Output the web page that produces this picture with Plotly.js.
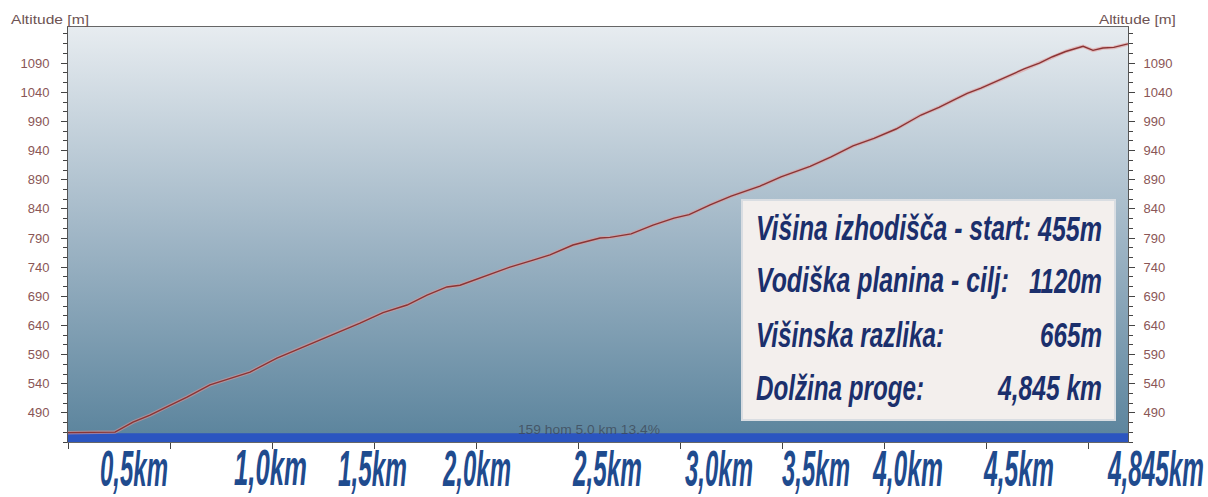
<!DOCTYPE html>
<html><head><meta charset="utf-8">
<script src="https://cdn.plot.ly/plotly-3.0.1.min.js"></script>
<style>html,body{margin:0;padding:0;background:#fff;}#chart{width:1208px;height:497px;}</style>
</head><body><div id="chart"></div>
<script>
// ---- data ----
const distanceKm = [0.000,0.100,0.215,0.297,0.375,0.466,0.544,0.649,0.754,0.832,0.955,1.061,1.138,1.211,1.335,1.440,1.550,1.641,1.732,1.792,1.897,2.020,2.126,2.203,2.308,2.432,2.477,2.574,2.674,2.770,2.839,2.935,3.031,3.163,3.259,3.392,3.488,3.588,3.684,3.785,3.899,3.981,4.045,4.110,4.173,4.288,4.370,4.440,4.500,4.560,4.610,4.640,4.685,4.730,4.780,4.845];
const altitudeM  = [456,456,457,474,486,503,517,538,551,560,584,601,612,624,644,662,675,692,706,709,723,740,752,761,778,790,791,797,812,824,830,847,862,879,895,913,929,948,961,977,1001,1014,1026,1038,1047,1066,1080,1090,1101,1110,1116,1119,1112,1116,1117,1123];
const startAltitude = 455;
const yTickValues = [490,540,590,640,690,740,790,840,890,940,990,1040,1090];
const xTickLabels = ['0,5km','1,0km','1,5km','2,0km','2,5km','3,0km','3,5km','4,0km','4,5km','4,845km'];
const infoLabels = ['Višina izhodišča - start:','Vodiška planina - cilj:','Višinska razlika:','Dolžina proge:'];
const infoValues = ['455m','1120m','665m','4,845 km'];
const statusText = '159 hom 5.0 km 13.4%';
const axisTitle = 'Altitude [m]';

// ---- layout constants ----
const X_RANGE = [0, 4.845];
const Y_RANGE = [440, 1152];
const M = {l:68, r:80, t:27, b:55};
const PW = 1208 - M.l - M.r, PH = 497 - M.t - M.b;
const px2paperX = p => (p - M.l) / PW;
const px2paperY = p => (497 - M.b - p) / PH;

const narrow = '"Liberation Sans Narrow", "Liberation Sans", Arial, sans-serif';
const plain = '"Liberation Sans", Arial, sans-serif';

// text fitting: the reference text is strongly condensed. We pick a font size whose
// natural width matches the target width, then stretch vertically to the visual size.
const cv = document.createElement('canvas').getContext('2d');
function measure(text, font){
  cv.font = (font.style==='italic'?'italic ':'') + (font.weight==='bold'?'bold ':'') + font.size + 'px ' + font.family;
  return cv.measureText(text).width;
}
const annotations = [], fits = [];
function addAnn(a, targetW, visSize){
  const natural = measure(a.text, Object.assign({}, a.font, {size:visSize}));
  const size = Math.max(6, visSize * targetW / natural);
  a.font = Object.assign({}, a.font, {size:size});
  annotations.push(a);
  fits.push({w:targetW, sy:visSize/size});
}

// x labels (placed by hand in the reference)
const xLabelCenters = [134,270,372,476,607,719,816,907,1018,1155];
const xLabelWidths  = [68,73,69,68,69,68,68,70,70,96];
xTickLabels.forEach((t,i)=>addAnn({
  text:t, xref:'paper', yref:'paper', x:px2paperX(xLabelCenters[i]), y:px2paperY(468),
  xanchor:'center', yanchor:'middle', align:'center', showarrow:false, borderpad:0,
  font:{family:narrow, color:'#1f4b8e', weight:'bold', style:'italic'}
}, xLabelWidths[i], 50));

// info box text
const rowY = [227.5, 280, 334.5, 387.5];
const labW = [275, 253, 188, 168];
const valW = [64, 73, 62, 104];
const infoFont = {family:narrow, color:'#1b2f6c', weight:'bold', style:'italic'};
infoLabels.forEach((t,i)=>addAnn({text:t, xref:'paper', yref:'paper', x:px2paperX(755), y:px2paperY(rowY[i]),
  xanchor:'left', yanchor:'middle', align:'left', showarrow:false, borderpad:0, font:infoFont}, labW[i], 35));
infoValues.forEach((t,i)=>addAnn({text:t, xref:'paper', yref:'paper', x:px2paperX(1103), y:px2paperY(rowY[i]),
  xanchor:'right', yanchor:'middle', align:'right', showarrow:false, borderpad:0, font:infoFont}, valW[i], 35));

// axis titles
const titleFont = {family:plain, color:'#6e5353'};
addAnn({text:axisTitle, xref:'paper', yref:'paper', x:px2paperX(10), y:px2paperY(19), xanchor:'left', yanchor:'middle', align:'left', showarrow:false, borderpad:0, font:titleFont}, 78, 12);
addAnn({text:axisTitle, xref:'paper', yref:'paper', x:px2paperX(1177), y:px2paperY(19), xanchor:'right', yanchor:'middle', align:'right', showarrow:false, borderpad:0, font:titleFont}, 77, 12);

// status text inside the band
addAnn({text:statusText, xref:'paper', yref:'paper', x:px2paperX(589), y:px2paperY(430), xanchor:'center', yanchor:'middle', align:'center', showarrow:false, borderpad:0,
  font:{family:plain, color:'rgba(60,70,85,0.75)'}}, 142, 12);

const tickFont = {family:plain, size:13, color:'#8a5656'};

const traces = [
  { // gradient background
    x:X_RANGE, y:[Y_RANGE[1], Y_RANGE[1]], type:'scatter', mode:'lines', line:{width:0},
    fill:'tozeroy', fillgradient:{type:'vertical', start:Y_RANGE[0], stop:Y_RANGE[1],
      colorscale:[[0,'#5a839c'],[0.5,'#a0b6c6'],[1,'#e7ecf0']]},
    hoverinfo:'skip', showlegend:false
  },
  { // blue start band
    x:X_RANGE, y:[startAltitude, startAltitude], type:'scatter', mode:'lines', line:{width:0},
    fill:'tozeroy', fillcolor:'#2b55c0', hoverinfo:'skip', showlegend:false
  },
  { // halo
    x:distanceKm, y:altitudeM, type:'scatter', mode:'lines',
    line:{color:'rgba(225,150,150,0.55)', width:3.5}, hoverinfo:'skip', showlegend:false
  },
  { // profile line
    x:distanceKm, y:altitudeM, type:'scatter', mode:'lines', yaxis:'y2',
    line:{color:'#8a3434', width:1.4}, hoverinfo:'skip', showlegend:false
  }
];

const yCommon = {
  range:Y_RANGE, tickmode:'array', tickvals:yTickValues, ticks:'outside', ticklen:6, tickwidth:1, tickcolor:'#444',
  minor:{tick0:490, dtick:50/3, ticks:'outside', ticklen:4, tickcolor:'#444'},
  showgrid:false, zeroline:false, showline:true, linecolor:'#555', linewidth:1,
  tickfont:tickFont, fixedrange:true
};

const layout = {
  width:1208, height:497, margin:M, paper_bgcolor:'#ffffff', plot_bgcolor:'#ffffff',
  showlegend:false,
  xaxis:{range:X_RANGE, tick0:0, dtick:X_RANGE[1]*102/1060, ticks:'outside', ticklen:6, tickcolor:'#444',
    showticklabels:false, showgrid:false, zeroline:false, showline:true, mirror:true, linecolor:'#666', fixedrange:true},
  yaxis:Object.assign({}, yCommon, {side:'left', ticklabelstandoff:9}),
  yaxis2:Object.assign({}, yCommon, {side:'right', overlaying:'y', ticklabelstandoff:6}),
  shapes:[{type:'rect', xref:'paper', yref:'paper', x0:px2paperX(742), x1:px2paperX(1115), y0:px2paperY(420), y1:px2paperY(200),
    fillcolor:'#f3efed', line:{color:'#d9dde2', width:2}, layer:'above'}],
  annotations:annotations
};

Plotly.newPlot('chart', traces, layout, {staticPlot:true, displayModeBar:false}).then(gd=>{
  gd.querySelectorAll('.annotation').forEach(g=>{
    const i = +g.getAttribute('data-index');
    const f = fits[i];
    const t = g.querySelector('text.annotation-text');
    if (!t || !f) return;
    t.setAttribute('textLength', f.w);
    t.setAttribute('lengthAdjust', 'spacingAndGlyphs');
    const bb = t.getBBox();
    const yc = bb.y + bb.height/2;
    t.setAttribute('transform', `translate(0,${yc}) scale(1,${f.sy}) translate(0,${-yc})`);
    g.querySelectorAll('rect').forEach(r=>{
      if (r.parentNode === t.parentNode) {
        r.setAttribute('x', bb.x);
        r.setAttribute('width', bb.width);
      }
    });
  });
});
</script></body></html>
